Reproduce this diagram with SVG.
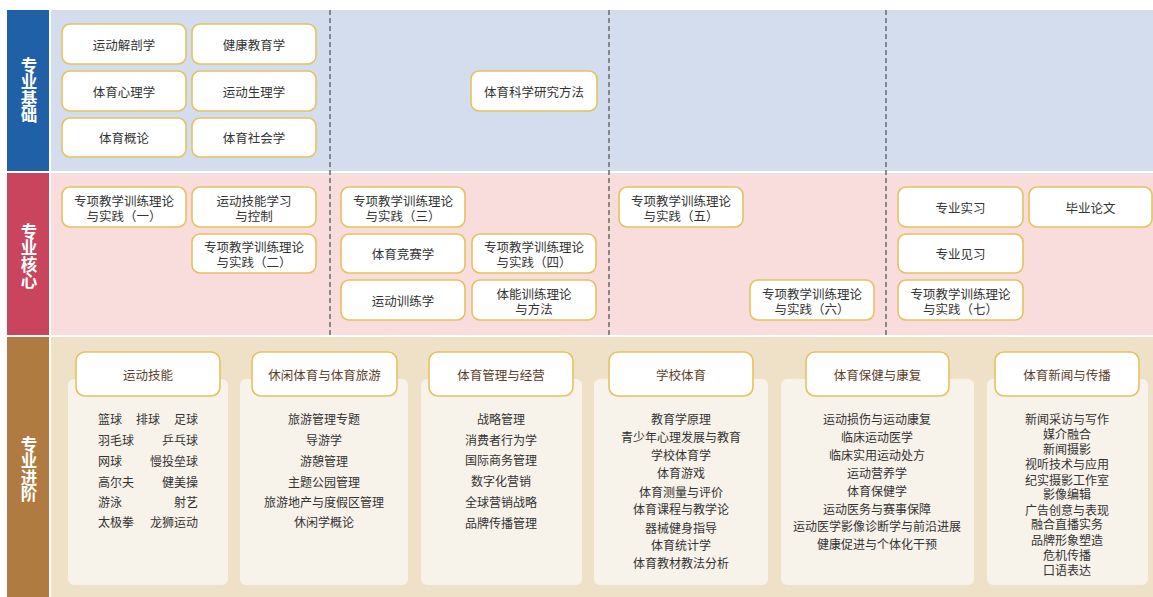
<svg xmlns="http://www.w3.org/2000/svg" width="1153" height="597" viewBox="0 0 1153 597">
<style>
text{font-family:"Noto Sans CJK SC","Noto Sans",sans-serif;}
.lbl{fill:#fff;font-size:16.5px;font-weight:bold;text-anchor:middle;writing-mode:vertical-rl;}
.box{fill:#fff;stroke:#e4c262;stroke-width:1.6;}
.bt{fill:#333;font-size:12.5px;text-anchor:middle;dominant-baseline:central;}
.card{fill:#f7f2ea;}
.hd{fill:#fff;stroke:#e4c262;stroke-width:1.6;}
.ht{fill:#5c4027;font-size:12.5px;text-anchor:middle;dominant-baseline:central;}
.it{fill:#333;font-size:12px;dominant-baseline:central;}
.itc{fill:#333;font-size:12px;text-anchor:middle;dominant-baseline:central;}
.dash{stroke:#6a6a6a;stroke-width:1.5;stroke-dasharray:5 3;fill:none;}
</style>
<rect x="0" y="0" width="1153" height="597" fill="#fff"/>
<g id="bands">
<rect x="7" y="10" width="42" height="161" fill="#1f60a7"/>
<rect x="51" y="10" width="1102" height="161" fill="#d3ddee"/>
<rect x="7" y="173" width="42" height="162" fill="#c8455d"/>
<rect x="51" y="173" width="1102" height="162" fill="#f9dcdc"/>
<rect x="7" y="337" width="42" height="260" fill="#b07b40"/>
<rect x="51" y="337" width="1102" height="260" fill="#eee1c7"/>
<text class="lbl" x="29" y="90">专业基础</text>
<text class="lbl" x="29" y="256">专业核心</text>
<text class="lbl" x="29" y="469">专业进阶</text>
</g>
<g id="connectors">
<line class="dash" x1="330" y1="10" x2="330" y2="335"/>
<line class="dash" x1="609" y1="10" x2="609" y2="335"/>
<line class="dash" x1="886" y1="10" x2="886" y2="335"/>
</g>
<g id="n1"><rect class="box" x="62" y="24" width="124" height="40" rx="8"/><text class="bt" x="124" y="44">运动解剖学</text></g>
<g id="n2"><rect class="box" x="192" y="24" width="124" height="40" rx="8"/><text class="bt" x="254" y="44">健康教育学</text></g>
<g id="n3"><rect class="box" x="62" y="71" width="124" height="40" rx="8"/><text class="bt" x="124" y="91">体育心理学</text></g>
<g id="n4"><rect class="box" x="192" y="71" width="124" height="40" rx="8"/><text class="bt" x="254" y="91">运动生理学</text></g>
<g id="n5"><rect class="box" x="62" y="118" width="124" height="39" rx="8"/><text class="bt" x="124" y="137.5">体育概论</text></g>
<g id="n6"><rect class="box" x="192" y="118" width="124" height="39" rx="8"/><text class="bt" x="254" y="137.5">体育社会学</text></g>
<g id="n7"><rect class="box" x="471" y="71" width="126" height="40" rx="8"/><text class="bt" x="534" y="91">体育科学研究方法</text></g>

<g id="m1"><rect class="box" x="62" y="187" width="124" height="40" rx="8"/><text class="bt"><tspan x="124" y="199.5">专项教学训练理论</tspan><tspan x="124" y="214.5">与实践（一）</tspan></text></g>
<g id="m2"><rect class="box" x="192" y="187" width="124" height="40" rx="8"/><text class="bt"><tspan x="254" y="199.5">运动技能学习</tspan><tspan x="254" y="214.5">与控制</tspan></text></g>
<g id="m3"><rect class="box" x="192" y="234" width="124" height="39" rx="8"/><text class="bt"><tspan x="254" y="246">专项教学训练理论</tspan><tspan x="254" y="261">与实践（二）</tspan></text></g>
<g id="m4"><rect class="box" x="341" y="187" width="124" height="40" rx="8"/><text class="bt"><tspan x="403" y="199.5">专项教学训练理论</tspan><tspan x="403" y="214.5">与实践（三）</tspan></text></g>
<g id="m5"><rect class="box" x="341" y="234" width="124" height="39" rx="8"/><text class="bt" x="403" y="253.5">体育竞赛学</text></g>
<g id="m6"><rect class="box" x="472" y="234" width="124" height="39" rx="8"/><text class="bt"><tspan x="534" y="246">专项教学训练理论</tspan><tspan x="534" y="261">与实践（四）</tspan></text></g>
<g id="m7"><rect class="box" x="341" y="280" width="124" height="40" rx="8"/><text class="bt" x="403" y="300">运动训练学</text></g>
<g id="m8"><rect class="box" x="472" y="280" width="124" height="40" rx="8"/><text class="bt"><tspan x="534" y="292.5">体能训练理论</tspan><tspan x="534" y="307.5">与方法</tspan></text></g>
<g id="m9"><rect class="box" x="619" y="187" width="124" height="40" rx="8"/><text class="bt"><tspan x="681" y="199.5">专项教学训练理论</tspan><tspan x="681" y="214.5">与实践（五）</tspan></text></g>
<g id="m10"><rect class="box" x="750" y="280" width="124" height="40" rx="8"/><text class="bt"><tspan x="812" y="292.5">专项教学训练理论</tspan><tspan x="812" y="307.5">与实践（六）</tspan></text></g>
<g id="m11"><rect class="box" x="898" y="187" width="125" height="40" rx="8"/><text class="bt" x="960.5" y="207">专业实习</text></g>
<g id="m12"><rect class="box" x="1029" y="187" width="123" height="40" rx="8"/><text class="bt" x="1090.5" y="207">毕业论文</text></g>
<g id="m13"><rect class="box" x="898" y="234" width="125" height="39" rx="8"/><text class="bt" x="960.5" y="253.5">专业见习</text></g>
<g id="m14"><rect class="box" x="898" y="280" width="125" height="40" rx="8"/><text class="bt"><tspan x="960.5" y="292.5">专项教学训练理论</tspan><tspan x="960.5" y="307.5">与实践（七）</tspan></text></g>

<g id="c1">
<rect class="card" x="68" y="379" width="160" height="206" rx="6"/>
<rect class="hd" x="76" y="352" width="144" height="44" rx="9"/>
<text class="ht" x="148" y="374">运动技能</text>
<text class="it"><tspan x="98" y="418">篮球</tspan><tspan x="98" y="439">羽毛球</tspan><tspan x="98" y="460">网球</tspan><tspan x="98" y="481">高尔夫</tspan><tspan x="98" y="501">游泳</tspan><tspan x="98" y="521">太极拳</tspan></text>
<text class="it" x="136" y="418">排球</text>
<text class="it" text-anchor="end"><tspan x="198" y="418">足球</tspan><tspan x="198" y="439">乒乓球</tspan><tspan x="198" y="460">慢投垒球</tspan><tspan x="198" y="481">健美操</tspan><tspan x="198" y="501">射艺</tspan><tspan x="198" y="521">龙狮运动</tspan></text>
</g>
<g id="c2">
<rect class="card" x="240" y="379" width="168" height="206" rx="6"/>
<rect class="hd" x="252" y="352" width="145" height="44" rx="9"/>
<text class="ht" x="324.5" y="374">休闲体育与体育旅游</text>
<text class="itc"><tspan x="324" y="418">旅游管理专题</tspan><tspan x="324" y="439">导游学</tspan><tspan x="324" y="460">游憩管理</tspan><tspan x="324" y="481">主题公园管理</tspan><tspan x="324" y="501">旅游地产与度假区管理</tspan><tspan x="324" y="521">休闲学概论</tspan></text>
</g>
<g id="c3">
<rect class="card" x="421" y="379" width="161" height="206" rx="6"/>
<rect class="hd" x="429" y="352" width="144" height="44" rx="9"/>
<text class="ht" x="501" y="374">体育管理与经营</text>
<text class="itc"><tspan x="501" y="418">战略管理</tspan><tspan x="501" y="439">消费者行为学</tspan><tspan x="501" y="459">国际商务管理</tspan><tspan x="501" y="480">数字化营销</tspan><tspan x="501" y="501">全球营销战略</tspan><tspan x="501" y="522">品牌传播管理</tspan></text>
</g>
<g id="c4">
<rect class="card" x="594" y="379" width="174" height="206" rx="6"/>
<rect class="hd" x="609" y="352" width="144" height="44" rx="9"/>
<text class="ht" x="681" y="374">学校体育</text>
<text class="itc"><tspan x="681" y="418">教育学原理</tspan><tspan x="681" y="436">青少年心理发展与教育</tspan><tspan x="681" y="454">学校体育学</tspan><tspan x="681" y="472">体育游戏</tspan><tspan x="681" y="491">体育测量与评价</tspan><tspan x="681" y="508">体育课程与教学论</tspan><tspan x="681" y="527">器械健身指导</tspan><tspan x="681" y="544">体育统计学</tspan><tspan x="681" y="562">体育教材教法分析</tspan></text>
</g>
<g id="c5">
<rect class="card" x="781" y="379" width="193" height="206" rx="6"/>
<rect class="hd" x="806" y="352" width="143" height="44" rx="9"/>
<text class="ht" x="877.5" y="374">体育保健与康复</text>
<text class="itc"><tspan x="877" y="418">运动损伤与运动康复</tspan><tspan x="877" y="436">临床运动医学</tspan><tspan x="877" y="454">临床实用运动处方</tspan><tspan x="877" y="472">运动营养学</tspan><tspan x="877" y="490">体育保健学</tspan><tspan x="877" y="508">运动医务与赛事保障</tspan><tspan x="877" y="525">运动医学影像诊断学与前沿进展</tspan><tspan x="877" y="543">健康促进与个体化干预</tspan></text>
</g>
<g id="c6">
<rect class="card" x="987" y="379" width="161" height="206" rx="6"/>
<rect class="hd" x="995" y="352" width="144" height="44" rx="9"/>
<text class="ht" x="1067" y="374">体育新闻与传播</text>
<text class="itc"><tspan x="1067" y="418">新闻采访与写作</tspan><tspan x="1067" y="433">媒介融合</tspan><tspan x="1067" y="448">新闻摄影</tspan><tspan x="1067" y="463">视听技术与应用</tspan><tspan x="1067" y="479">纪实摄影工作室</tspan><tspan x="1067" y="493">影像编辑</tspan><tspan x="1067" y="509">广告创意与表现</tspan><tspan x="1067" y="523">融合直播实务</tspan><tspan x="1067" y="539">品牌形象塑造</tspan><tspan x="1067" y="554">危机传播</tspan><tspan x="1067" y="569">口语表达</tspan></text>
</g>
</svg>
